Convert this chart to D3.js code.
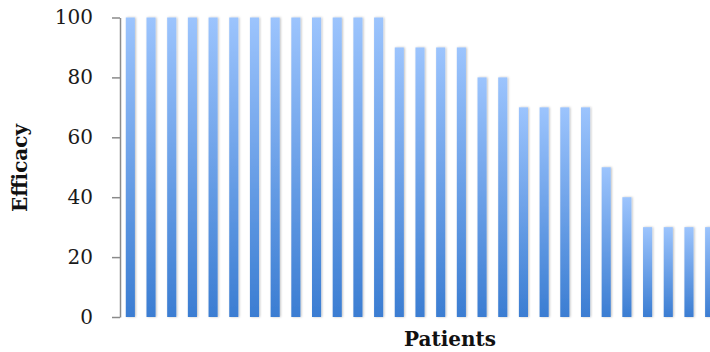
<!DOCTYPE html>
<html><head><meta charset="utf-8">
<script src="https://cdn.jsdelivr.net/npm/d3@7"></script>
<style>html,body{margin:0;padding:0;background:#fff;overflow:hidden}</style>
</head><body>
<svg id="c" width="710" height="352"></svg>
<script>
const patients = d3.range(1, 30).map(String);
const efficacy = [100,100,100,100,100,100,100,100,100,100,100,100,100,90,90,90,90,80,80,70,70,70,70,50,40,30,30,30,30];
const yTicks = [0,20,40,60,80,100];

const svg = d3.select("#c");
const x = d3.scaleBand().domain(patients).range([120, 720]).paddingInner(0.56).paddingOuter(0.28);
const y = d3.scaleLinear().domain([0,100]).range([317, 17.5]);

const defs = svg.append("defs");
const g = defs.append("linearGradient").attr("id","bg").attr("x1",0).attr("y1",0).attr("x2",0).attr("y2",1);
g.append("stop").attr("offset","0%").attr("stop-color","#9cc4fd");
g.append("stop").attr("offset","100%").attr("stop-color","#3b7dd2");
const f = defs.append("filter").attr("id","sh").attr("x","-50%").attr("y","-10%").attr("width","200%").attr("height","120%");
f.append("feDropShadow").attr("dx",1).attr("dy",0).attr("stdDeviation",1.2).attr("flood-color","#000").attr("flood-opacity",0.25);

svg.append("g").selectAll("rect").data(efficacy).join("rect")
  .attr("x",(d,i)=>x(patients[i])).attr("width",x.bandwidth())
  .attr("y",d=>y(d)).attr("height",d=>y(0)-y(d))
  .attr("fill","url(#bg)").attr("filter","url(#sh)");

const ax = svg.append("g").attr("transform","translate(120,0)")
  .call(d3.axisLeft(y).tickValues(yTicks).tickSize(8).tickPadding(19).tickSizeOuter(0));
ax.attr("font-family", null).attr("font-size", null);
ax.select(".domain").attr("stroke","#8a8a8a").attr("stroke-width",1.5);
ax.selectAll(".tick line").attr("stroke","#8a8a8a").attr("stroke-width",1.5);
ax.selectAll(".tick text").style("font-family","'DejaVu Serif', serif").style("font-size","20px")
  .attr("fill","#1a1a1a");

svg.append("text").attr("transform","translate(27,168) rotate(-90)").attr("text-anchor","middle")
  .style("font-family","'DejaVu Serif', serif").style("font-weight","bold").style("font-size","20px")
  .attr("fill","#111").text("Efficacy");
svg.append("text").attr("x",450).attr("y",346).attr("text-anchor","middle")
  .style("font-family","'DejaVu Serif', serif").style("font-weight","bold").style("font-size","20px")
  .attr("fill","#111").text("Patients");
</script>
</body></html>
